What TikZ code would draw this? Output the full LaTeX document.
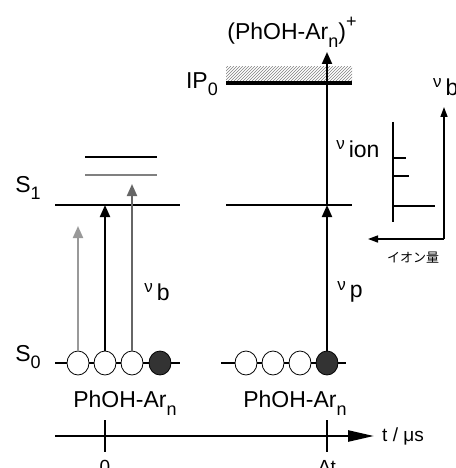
\documentclass[tikz,border=0pt]{standalone}
\usepackage{fontspec}
\setmainfont{Liberation Sans}
\newfontfamily\jpfont{Noto Sans CJK JP}
\usepackage{tikz}
\usetikzlibrary{arrows.meta,patterns,shapes.geometric}

\newcommand\lo[1]{\raisebox{-0.32em}{\fontsize{18}{18}\selectfont #1}}
\newcommand\hi[1]{\raisebox{0.55em}{\fontsize{18}{18}\selectfont #1}}
\newcommand\nulab[1]{\raisebox{0.33em}{\fontsize{17}{17}\selectfont ν}\,#1}

\tikzset{
  lab/.style={font=\fontsize{23}{26}\selectfont,inner sep=0pt},
  level/.style={line width=2pt},
  mol/.style={ellipse,draw,line width=0.8pt,fill=white,minimum width=22pt,minimum height=24pt,inner sep=0pt},
  molx/.style={mol,fill=black!80},
  uparr/.style={line width=2pt,-{Triangle[length=12pt,width=10pt]}},
  smallarr/.style={line width=1.5pt,-{Triangle[length=10pt,width=7pt]}},
}

\begin{document}
\begin{tikzpicture}[x=1pt,y=-1pt]
\useasboundingbox (0,0) rectangle (455,468);

% --- labels ---
\node[lab] (ionlab) at (292,32) {(PhOH-Ar\lo{n})\hi{+}};
\node[lab,anchor=east] (iplab) at (218,84) {IP\lo{0}};
\node[lab] (s1lab) at (28,188) {S\lo{1}};
\node[lab] (s0lab) at (28,357) {S\lo{0}};

% --- levels ---
\fill[pattern=north east lines,pattern color=gray] (226,67) rectangle (352,81);
\draw[line width=4pt] (226,83) -- (352,83);
\draw[level] (55,205) -- (180,205);
\draw[level] (226,205) -- (352,205);
\draw[line width=1.5pt] (85,157) -- (157,157);
\draw[line width=1.5pt,gray] (85,175) -- (157,175);
\draw[line width=2.5pt] (55,363) -- (180,363);
\draw[line width=2.5pt] (221,363) -- (346,363);

% --- molecules ---
\foreach \i/\x in {1/78,2/105,3/132}
  \node[mol] (L\i) at (\x,363) {};
\node[molx] (L4) at (160,363) {};
\foreach \i/\x in {1/246,2/273,3/300}
  \node[mol] (R\i) at (\x,363) {};
\node[molx] (R4) at (327,363) {};
\node[lab] (mlabL) at (125,403) {PhOH-Ar\lo{n}};
\node[lab] (mlabR) at (295,403) {PhOH-Ar\lo{n}};

% --- excitation ---
\coordinate (tA) at (78,226);
\coordinate (tB) at (105,205);
\coordinate (tC) at (132,184);
\coordinate (tP) at (327,205);
\coordinate (tI) at (327,52);
\draw[uparr,black!40] (L1.north) -- (tA);
\draw[uparr] (L2.north) -- (tB);
\draw[uparr,black!60] (L3.north) -- (tC);
\draw[uparr] (R4.north) -- (tP);
\draw[uparr] (tP) -- (tI);
\node[lab] (nub) at (157,292) {\nulab{b}};
\node[lab] (nup) at (350,292) {\nulab{p}};
\node[lab] (nuion) at (358,149) {\nulab{ion}};

% --- ion signal ---
\coordinate (c0) at (444,239);
\coordinate (cy) at (444,107);
\coordinate (cx) at (368,239);
\draw[smallarr] (c0) -- (cy);
\draw[smallarr] (c0) -- (cx);
\draw[line width=2pt] (393,122) -- (393,222);
\draw[line width=2pt] (393,158) -- (406,158) (393,176) -- (409,176) (393,206) -- (435,206);
\node[lab,anchor=west] (nubaxis) at (433,87) {\nulab{b}};
\node[inner sep=0pt,font=\jpfont\fontsize{13}{13}\selectfont] (amount) at (413,258) {イオン量};

% --- time axis ---
\coordinate (t0) at (55,436);
\coordinate (t1) at (374,436);
\draw[line width=2.5pt,-{Triangle[length=26pt,width=11pt]}] (t0) -- (t1);
\draw[line width=2pt] (105,420) -- (105,452) (327,420) -- (327,452);
\node[inner sep=0pt,anchor=west,font=\fontsize{19}{19}\selectfont] (tlab) at (382,436) {t / μs};
\node[inner sep=0pt,anchor=north,font=\fontsize{19}{19}\selectfont] (zero) at (105,460) {0};
\node[inner sep=0pt,anchor=north,font=\fontsize{19}{19}\selectfont] (dt) at (327,460) {Δt};

\end{tikzpicture}
\end{document}
